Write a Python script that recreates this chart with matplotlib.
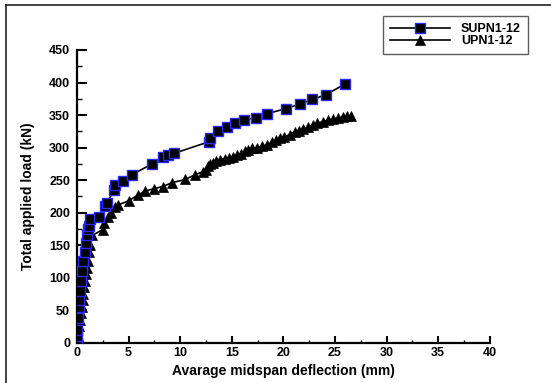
import matplotlib
matplotlib.use('Agg')
import matplotlib.pyplot as plt
from matplotlib.lines import Line2D
from matplotlib.ticker import MultipleLocator

# SUPN1-12 readings (deflection mm, load kN)
supn_defl = [0, 0.05, 0.05, 0.1, 0.15, 0.2, 0.25, 0.35, 0.45, 0.6, 0.75, 0.85,
             0.95, 1.05, 1.15, 1.3, 2.1, 2.7, 2.9, 3.6, 3.7, 4.5, 5.3, 7.3,
             8.3, 8.8, 9.4, 12.8, 12.9, 13.7, 14.5, 15.3, 16.2, 17.3, 18.4,
             20.3, 21.6, 22.8, 24.1, 26.0]
supn_load = [0, 10, 20, 38, 55, 65, 80, 95, 110, 125, 140, 153,
             165, 175, 180, 190, 194, 210, 215, 235, 242, 248, 258, 275,
             285, 289, 291, 309, 315, 325, 332, 337, 342, 346, 352,
             360, 367, 374, 381, 398]

# UPN1-12 readings
upn_defl = [0, 0.1, 0.15, 0.25, 0.35, 0.45, 0.55, 0.6, 0.7, 0.8, 0.9, 1.0,
            1.1, 1.2, 1.3, 1.5, 2.5, 2.6, 3.0, 3.3, 3.7, 4.0, 5.0, 5.9, 6.6,
            7.5, 8.3, 9.2, 10.5, 11.4, 12.2, 12.5, 12.7, 12.9, 13.2, 13.5,
            13.9, 14.3, 14.7, 15.1, 15.5, 15.9, 16.3, 16.6, 17.0, 17.4, 17.9,
            18.4, 18.9, 19.3, 19.7, 20.1, 20.6, 21.1, 21.5, 21.9, 22.4, 22.9,
            23.3, 23.8, 24.3, 24.8, 25.3, 25.8, 26.2, 26.6]
upn_load = [0, 10, 25, 35, 45, 55, 65, 75, 85, 95, 105, 115,
            125, 140, 150, 165, 174, 184, 194, 200, 208, 212, 218, 227, 233,
            237, 240, 246, 251, 258, 263, 266, 271, 274, 277, 280,
            281, 283, 284, 286, 288, 290, 295, 297, 299, 300, 302,
            304, 308, 311, 314, 316, 320, 324, 326, 328, 331, 335,
            337, 340, 342, 344, 345, 347, 348, 349]

plt.rcParams['font.family'] = ['Liberation Sans', 'DejaVu Sans']

fig = plt.figure(figsize=(5.51, 3.83), dpi=100)
ax = fig.add_axes([0.1397, 0.1052, 0.7492, 0.7643])

ax.plot(supn_defl, supn_load, color='black', lw=1.2, marker='s', ms=6.5,
        mfc='black', mec='#2a2aff', mew=1.0, label='SUPN1-12', zorder=3)
ax.plot(upn_defl, upn_load, color='black', lw=1.2, marker='^', ms=7,
        mfc='black', mec='black', mew=0.5, label='UPN1-12', zorder=2)

ax.set_xlim(0, 40)
ax.set_ylim(0, 450)
ax.xaxis.set_major_locator(MultipleLocator(5))
ax.xaxis.set_minor_locator(MultipleLocator(2.5))
ax.yaxis.set_major_locator(MultipleLocator(50))
ax.yaxis.set_minor_locator(MultipleLocator(25))

for side in ['top', 'right']:
    ax.spines[side].set_visible(False)
for side in ['left', 'bottom']:
    ax.spines[side].set_linewidth(1.6)

ax.tick_params(axis='x', which='major', direction='in', length=5, width=1.5,
               pad=3, labelsize=9)
ax.tick_params(axis='x', which='minor', direction='in', length=2.5, width=1)
ax.tick_params(axis='y', which='major', direction='in', length=7, width=1.5,
               pad=5, labelsize=9)
ax.tick_params(axis='y', which='minor', direction='in', length=3.5, width=1)
for lbl in ax.get_xticklabels() + ax.get_yticklabels():
    lbl.set_fontweight('bold')

ax.set_xlabel('Avarage midspan deflection (mm)', fontsize=10, fontweight='bold',
              labelpad=4)
ax.set_ylabel('Total applied load (kN)', fontsize=10, fontweight='bold',
              labelpad=10)

leg = fig.legend(loc='upper left', bbox_to_anchor=(383 / 551, 1 - 16 / 383),
                 numpoints=1, handlelength=4.8, fontsize=9, frameon=True,
                 fancybox=False, borderpad=0.55, labelspacing=0.0,
                 handletextpad=0.9, borderaxespad=0)
leg.get_frame().set_edgecolor('#333333')
leg.get_frame().set_linewidth(1.0)
for t in leg.get_texts():
    t.set_fontweight('bold')

# outer frame lines (top and left edges of the image)
fig.add_artist(Line2D([6 / 551, 1], [1 - 5 / 383, 1 - 5 / 383], color='#222222',
                      lw=1.2, transform=fig.transFigure))
fig.add_artist(Line2D([6 / 551, 6 / 551], [0, 1 - 5 / 383], color='#222222',
                      lw=1.2, transform=fig.transFigure))

fig.savefig('out.png', dpi=100)
